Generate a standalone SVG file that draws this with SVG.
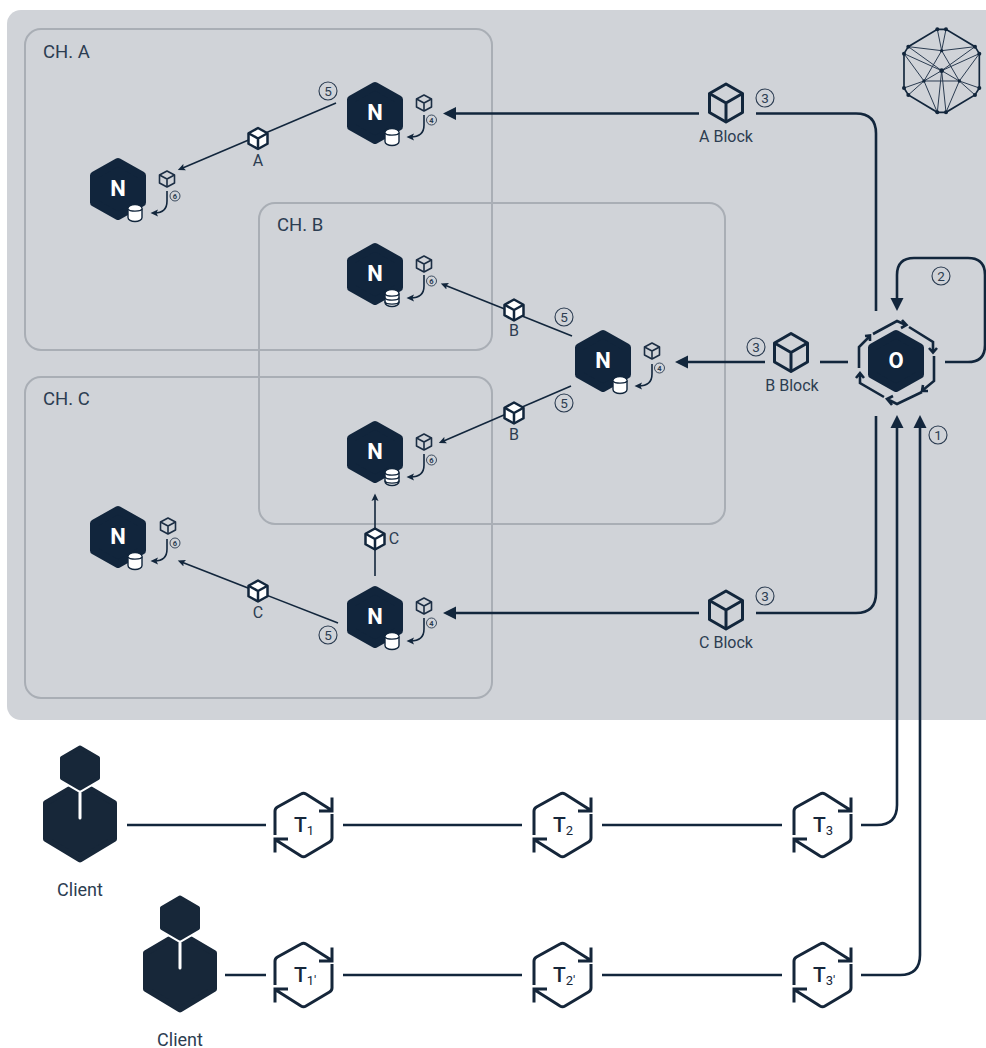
<svg xmlns="http://www.w3.org/2000/svg" width="986" height="1048" viewBox="0 0 986 1048">
<style>
text{font-family:Roboto,"Liberation Sans",sans-serif;fill:#2c3d51}
.panel{fill:none;stroke:#a9aeb5;stroke-width:2}
.thick{fill:none;stroke:#12263c;stroke-width:2.6;stroke-linecap:butt}
.thin{fill:none;stroke:#12263c;stroke-width:1.6}
.lbl{font-size:16px;text-anchor:middle}
.ch{font-size:18.5px}
.nl{font-size:22px;font-weight:700;fill:#fff;text-anchor:middle}
.tl{font-size:21px;font-weight:500;fill:#15263a}
.sub{font-size:13px;font-weight:400;fill:#15263a}
.c1{fill:none;stroke:#2a3b50;stroke-width:1.1}
.c2{fill:none;stroke:#2a3b50;stroke-width:.9}
.n1{font-size:13.500px;text-anchor:middle}
.n2{font-size:7.500px;font-weight:700;text-anchor:middle}
.cl{font-size:18px;text-anchor:middle}
.tx{fill:none;stroke:#15263a;stroke-width:3}
</style>
<defs>
<marker id="big" markerUnits="userSpaceOnUse" markerWidth="14" markerHeight="14" refX="8" refY="7" orient="auto"><path d="M0,0.5L13,7L0,13.5Z" fill="#12263c"/></marker>
<marker id="small" markerUnits="userSpaceOnUse" markerWidth="8" markerHeight="8" refX="3.500" refY="4" orient="auto"><path d="M0,0.500L7.500,4L0,7.500L1.500,4Z" fill="#12263c"/></marker>
<polygon id="hex" points="0,-27 24,-13.500 24,13.500 0,27 -24,13.500 -24,-13.500" fill="#11253c" stroke="#11253c" stroke-width="8" stroke-linejoin="round"/>
<g id="cubeS" fill="none" stroke="#1c2e44" stroke-width="1.6" stroke-linejoin="round"><path d="M0,-8L7.500,-4V4L0,8L-7.500,4V-4Z"/><path d="M-7.500,-4L0,0L7.500,-4M0,0V8"/></g>
<g id="cubeM" fill="#fff" stroke="#12263c" stroke-width="2.500" stroke-linejoin="round"><path d="M0,-10.500L9.500,-5.250V5.250L0,10.500L-9.500,5.250V-5.250Z"/><path d="M-9.500,-5.250L0,0L9.500,-5.250M0,0V10.500" fill="none"/></g>
<g id="cubeL" fill="none" stroke="#12263c" stroke-width="3" stroke-linejoin="round"><path d="M0,-19L16.500,-9.500V9.500L0,19L-16.500,9.500V-9.500Z"/><path d="M-16.500,-9.500L0,0L16.500,-9.500M0,0V19"/></g>
<g id="db1" stroke="#12263c" stroke-width="1.4"><rect x="-7" y="-8.500" width="14" height="17" rx="7" ry="4" fill="#fff"/><path d="M-7,-4.500C-7,-1 7,-1 7,-4.500" fill="#fff"/></g>
<g id="db3" stroke="#12263c" stroke-width="1.4"><rect x="-7" y="-8.500" width="14" height="17" rx="7" ry="4" fill="#fff"/><path d="M-7,-4.500C-7,-1 7,-1 7,-4.500M-7,-.5C-7,3 7,3 7,-.5M-7,3.500C-7,7 7,7 7,3.500" fill="none"/></g>
<g id="tx"><path class="tx" d="M-28.500,10V-14Q-28.500,-16.500 -26,-18L-2.500,-31Q0,-32.500 2.500,-31L28.500,-14.500M28.500,-27.500V-14H15.500"/><path class="tx" d="M28.500,-11V13Q28.500,15.500 26,17L2.500,31Q0,32.500 -2.500,31L-28.500,14.500M-28.500,27.500V14H-15.500"/></g>
<g id="person"><polygon points="0,38 34,58 34,94 0,114.500 -34,94 -34,58" fill="#172739" stroke="#172739" stroke-width="6" stroke-linejoin="round"/><polygon points="0,2.500 18,13 18,33 0,43.500 -18,33 -18,13" fill="#fff" stroke="#fff" stroke-width="8" stroke-linejoin="round"/><polygon points="0,2.500 18,13 18,33 0,43.500 -18,33 -18,13" fill="#172739" stroke="#172739" stroke-width="4" stroke-linejoin="round"/><path d="M0,48V73" stroke="#fff" stroke-width="3" stroke-linecap="round"/></g>
</defs>

<g id="backdrop"><rect x="7" y="10" width="1000" height="710" rx="14" fill="#d0d3d8"/></g>
<g id="ch-a"><rect class="panel" x="25" y="29" width="467" height="321" rx="16"/><text class="ch" x="43" y="58">CH. A</text></g>
<g id="ch-b"><rect class="panel" x="259" y="203" width="466" height="321" rx="16"/><text class="ch" x="277" y="231">CH. B</text></g>
<g id="ch-c"><rect class="panel" x="25" y="377" width="467" height="321" rx="16"/><text class="ch" x="43" y="405">CH. C</text></g>

<g id="logo" transform="translate(840,10) scale(.3333)" stroke="#2a3b50" fill="#12263c">
<path fill="none" stroke="#12263c" stroke-width="5" d="M292,58L318,58L405,110L418,131V234L405,255L318,307H292L205,255L192,234V131L205,110Z"/>
<path fill="none" stroke-width="3" d="M205,110L305,122L405,110M292,58L305,122L318,58M192,131L305,182L418,131M205,110L305,182L405,110M305,122L252,213M305,122L358,213M305,182L252,213M305,182L358,213M252,213H358M252,213L292,307M358,213L318,307M305,182L292,307M305,182L318,307M252,213L205,255M252,213L192,234M358,213L405,255M358,213L418,234M192,131L252,213M418,131L358,213"/>
<g stroke="none"><circle cx="292" cy="58" r="6"/><circle cx="318" cy="58" r="6"/><circle cx="405" cy="110" r="6"/><circle cx="418" cy="131" r="6"/><circle cx="418" cy="234" r="6"/><circle cx="405" cy="255" r="6"/><circle cx="318" cy="307" r="6"/><circle cx="292" cy="307" r="6"/><circle cx="205" cy="255" r="6"/><circle cx="192" cy="234" r="6"/><circle cx="192" cy="131" r="6"/><circle cx="205" cy="110" r="6"/><circle cx="305" cy="122" r="5"/><circle cx="305" cy="182" r="7"/><circle cx="252" cy="213" r="5"/><circle cx="358" cy="213" r="5"/></g>
</g>

<g id="connectors">
<path class="thin" d="M336,103L181.500,168.500" marker-end="url(#small)"/>
<path class="thin" d="M572,336L444.500,285" marker-end="url(#small)"/>
<path class="thin" d="M571,386L442.500,441.500" marker-end="url(#small)"/>
<path class="thin" d="M375,576V497.500" marker-end="url(#small)"/>
<path class="thin" d="M338,623L181.500,562" marker-end="url(#small)"/>
<path class="thin" d="M424,115V125Q424,137 410.500,137" marker-end="url(#small)"/>
<path class="thin" d="M167,191V201Q167,213 154.500,213" marker-end="url(#small)"/>
<path class="thin" d="M424,275V286Q424,298 410.500,298" marker-end="url(#small)"/>
<path class="thin" d="M652,364V374Q652,386 638.500,386" marker-end="url(#small)"/>
<path class="thin" d="M424,454V465Q424,477 410.500,477" marker-end="url(#small)"/>
<path class="thin" d="M167,539V549Q167,561 154.500,561" marker-end="url(#small)"/>
<path class="thin" d="M424,618V629Q424,641 410.500,641" marker-end="url(#small)"/>
<path class="thick" d="M699,113.500H448" marker-end="url(#big)"/>
<path class="thick" d="M756,113.500H856Q876,113.500 876,133.500V311"/>
<path class="thick" d="M699,613H448" marker-end="url(#big)"/>
<path class="thick" d="M756,613H856Q876,613 876,593V416"/>
<path class="thick" d="M765,362H680" marker-end="url(#big)"/>
<path class="thick" d="M820,362H848"/>
<path class="thick" d="M945,362H968Q985,362 985,345V275Q985,258 968,258H914Q897,258 897,275V306" marker-end="url(#big)"/>
<path class="thick" d="M127,825H266M343,825H522M602,825H782"/>
<path class="thick" d="M225,975H266M343,975H522M602,975H782"/>
<path class="thick" d="M861,825H877Q897,825 897,805V420" marker-end="url(#big)"/>
<path class="thick" d="M861,975H900Q920,975 920,955V420" marker-end="url(#big)"/>
<path class="thick" d="M873,334L897,321L906,325M902,320L906.500,325L901,328"/>
<path class="thick" d="M909,327L933,342V352M929,348L933,352.500L937,348"/>
<path class="thick" d="M934,356V381L923,390M923,385L922,391L928,391"/>
<path class="thick" d="M922,392L897,404L887,399M892,405L887,399L893,396"/>
<path class="thick" d="M884,397L860,383V373M856,378L860,373L864,378"/>
<path class="thick" d="M859,368V347L870,336M865,336L870,335.500L870,341"/>
</g>

<g id="cube-a"><use href="#cubeM" x="258" y="138.500"/><text class="lbl" x="258" y="166">A</text></g>
<g id="cube-b1"><use href="#cubeM" x="514" y="310"/><text class="lbl" x="514" y="336">B</text></g>
<g id="cube-b2"><use href="#cubeM" x="514" y="413"/><text class="lbl" x="514" y="440">B</text></g>
<g id="cube-c1"><use href="#cubeM" x="375" y="539"/><text class="lbl" x="394" y="544">C</text></g>
<g id="cube-c2"><use href="#cubeM" x="258" y="591"/><text class="lbl" x="258" y="618">C</text></g>
<g id="block-a"><use href="#cubeL" x="726" y="103"/><text class="lbl" x="726" y="142">A Block</text></g>
<g id="block-b"><use href="#cubeL" x="791" y="352.500"/><text class="lbl" x="792" y="391">B Block</text></g>
<g id="block-c"><use href="#cubeL" x="726" y="610"/><text class="lbl" x="726" y="648">C Block</text></g>

<g id="node-a1"><use href="#hex" x="375" y="113"/><text class="nl" x="375" y="120">N</text><use href="#db1" x="392" y="137"/><use href="#cubeS" x="424" y="103"/></g>
<g id="node-a2"><use href="#hex" x="118" y="189"/><text class="nl" x="118" y="196">N</text><use href="#db1" x="135" y="213"/><use href="#cubeS" x="167" y="179"/></g>
<g id="node-b1"><use href="#hex" x="375" y="274"/><text class="nl" x="375" y="281">N</text><use href="#db3" x="392" y="298"/><use href="#cubeS" x="424" y="264"/></g>
<g id="node-b2"><use href="#hex" x="603" y="361"/><text class="nl" x="603" y="368">N</text><use href="#db1" x="620" y="385"/><use href="#cubeS" x="652" y="351"/></g>
<g id="node-b3"><use href="#hex" x="375" y="452"/><text class="nl" x="375" y="459">N</text><use href="#db3" x="392" y="477"/><use href="#cubeS" x="424" y="442"/></g>
<g id="node-c1"><use href="#hex" x="118" y="537"/><text class="nl" x="118" y="544">N</text><use href="#db1" x="135" y="561"/><use href="#cubeS" x="168" y="526"/></g>
<g id="node-c2"><use href="#hex" x="375" y="617"/><text class="nl" x="375" y="624">N</text><use href="#db1" x="392" y="641"/><use href="#cubeS" x="424" y="606"/></g>
<g id="orderer"><use href="#hex" x="896" y="361"/><text class="nl" x="896" y="368">O</text></g>

<g id="steps">
<circle class="c1" cx="328" cy="91" r="9"/><text class="n1" x="328" y="95.500">5</text>
<circle class="c1" cx="765" cy="98" r="9"/><text class="n1" x="765" y="102.500">3</text>
<circle class="c1" cx="756" cy="347" r="9"/><text class="n1" x="756" y="351.500">3</text>
<circle class="c1" cx="564" cy="317" r="9"/><text class="n1" x="564" y="321.500">5</text>
<circle class="c1" cx="564" cy="403" r="9"/><text class="n1" x="564" y="407.500">5</text>
<circle class="c1" cx="765" cy="596" r="9"/><text class="n1" x="765" y="600.500">3</text>
<circle class="c1" cx="328" cy="635" r="9"/><text class="n1" x="328" y="639.500">5</text>
<circle class="c1" cx="941" cy="276" r="9"/><text class="n1" x="941" y="280.500">2</text>
<circle class="c1" cx="938" cy="435" r="9"/><text class="n1" x="938" y="439.500">1</text>
<circle class="c2" cx="431.500" cy="120" r="5"/><text class="n2" x="431.500" y="122.500">4</text>
<circle class="c2" cx="175" cy="196" r="5"/><text class="n2" x="175" y="198.500">6</text>
<circle class="c2" cx="431.500" cy="281" r="5"/><text class="n2" x="431.500" y="283.500">6</text>
<circle class="c2" cx="659.500" cy="368" r="5"/><text class="n2" x="659.500" y="370.500">4</text>
<circle class="c2" cx="431.500" cy="460" r="5"/><text class="n2" x="431.500" y="462.500">6</text>
<circle class="c2" cx="175" cy="543" r="5"/><text class="n2" x="175" y="545.500">6</text>
<circle class="c2" cx="431.500" cy="623" r="5"/><text class="n2" x="431.500" y="625.500">4</text>
</g>

<g id="client-1"><use href="#person" x="80" y="745"/><text class="cl" x="80" y="896">Client</text></g>
<g id="client-2"><use href="#person" x="180" y="895"/><text class="cl" x="180" y="1046">Client</text></g>
<g id="t1"><use href="#tx" x="303.500" y="825"/><text class="tl" x="294" y="832">T<tspan class="sub" dy="3">1</tspan></text></g>
<g id="t2"><use href="#tx" x="562.500" y="825"/><text class="tl" x="553" y="832">T<tspan class="sub" dy="3">2</tspan></text></g>
<g id="t3"><use href="#tx" x="822.500" y="825"/><text class="tl" x="813" y="832">T<tspan class="sub" dy="3">3</tspan></text></g>
<g id="t1p"><use href="#tx" x="303.500" y="975"/><text class="tl" x="294" y="982">T<tspan class="sub" dy="3">1′</tspan></text></g>
<g id="t2p"><use href="#tx" x="562.500" y="975"/><text class="tl" x="553" y="982">T<tspan class="sub" dy="3">2′</tspan></text></g>
<g id="t3p"><use href="#tx" x="822.500" y="975"/><text class="tl" x="813" y="982">T<tspan class="sub" dy="3">3′</tspan></text></g>
</svg>
